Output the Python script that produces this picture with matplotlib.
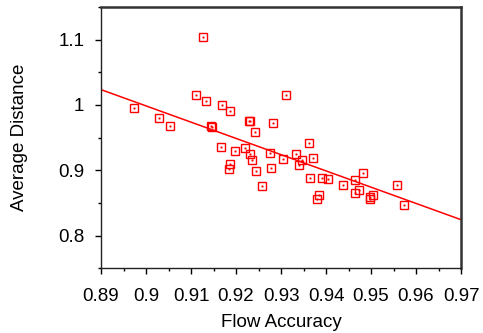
import matplotlib
matplotlib.use('Agg')
import matplotlib.pyplot as plt
from matplotlib.ticker import MultipleLocator

plt.rcParams['font.family'] = ['Liberation Sans', 'DejaVu Sans']

# flow accuracy vs average distance
accuracy = [0.9127, 0.8973, 0.9028, 0.9053, 0.9111, 0.9134, 0.9145, 0.9147,
            0.9168, 0.9187, 0.9229, 0.9231, 0.9242, 0.9282, 0.9310,
            0.9166, 0.9198, 0.9187, 0.9184, 0.9221, 0.9230, 0.9236, 0.9244,
            0.9258, 0.9275, 0.9278, 0.9304,
            0.9362, 0.9333, 0.9346, 0.9341, 0.9372, 0.9364, 0.9391, 0.9404,
            0.9385, 0.9379, 0.9437, 0.9465, 0.9482, 0.9474, 0.9465, 0.9504,
            0.9497, 0.9498, 0.9558, 0.9574]
distance = [1.1046, 0.9954, 0.9800, 0.9680, 1.0158, 1.0055, 0.9672, 0.9668,
            0.9994, 0.9913, 0.9750, 0.9755, 0.9580, 0.9724, 1.0157,
            0.9350, 0.9290, 0.9097, 0.9025, 0.9346, 0.9244, 0.9152, 0.8994,
            0.8764, 0.9260, 0.9040, 0.9178,
            0.9418, 0.9254, 0.9152, 0.9075, 0.9193, 0.8882, 0.8882, 0.8871,
            0.8616, 0.8560, 0.8780, 0.8852, 0.8959, 0.8692, 0.8657, 0.8616,
            0.8591, 0.8565, 0.8769, 0.8463]

# regression line end points
fit_x = [0.89, 0.97]
fit_y = [1.0235, 0.8244]

xticks = [0.89, 0.90, 0.91, 0.92, 0.93, 0.94, 0.95, 0.96, 0.97]
xtick_labels = ['0.89', '0.9', '0.91', '0.92', '0.93', '0.94', '0.95', '0.96', '0.97']
yticks = [0.8, 0.9, 1.0, 1.1]
ytick_labels = ['0.8', '0.9', '1', '1.1']

fig = plt.figure(figsize=(4.83, 3.33), dpi=100)
ax = fig.add_axes([0.2091, 0.1943, 0.7455, 0.7847])

ax.plot(fit_x, fit_y, color='#ff0000', linewidth=1.1, zorder=2)
ax.plot(accuracy, distance, linestyle='none', marker='s', markersize=5.2,
        markerfacecolor='none', markeredgecolor='#ff0000', markeredgewidth=1.0, zorder=3)
ax.plot(accuracy, distance, linestyle='none', marker='s', markersize=1.0,
        markerfacecolor='#ff0000', markeredgecolor='#ff0000', markeredgewidth=0.3, zorder=3)

ax.set_xlim(0.89, 0.97)
ax.set_ylim(0.75, 1.15)
ax.set_xticks(xticks)
ax.set_xticklabels(xtick_labels)
ax.set_yticks(yticks)
ax.set_yticklabels(ytick_labels)
ax.xaxis.set_minor_locator(MultipleLocator(0.005))
ax.yaxis.set_minor_locator(MultipleLocator(0.05))
ax.tick_params(axis='both', which='major', length=4, width=1, labelsize=13.5)
ax.tick_params(axis='x', which='major', pad=10)
ax.tick_params(axis='y', which='major', pad=8)
ax.tick_params(axis='both', which='minor', length=2.5, width=1)

for s in ['left', 'bottom']:
    ax.spines[s].set_linewidth(1.0)
    ax.spines[s].set_color('#222222')
for s in ['top', 'right']:
    ax.spines[s].set_linewidth(1.8)
    ax.spines[s].set_color('#333333')

ax.set_xlabel('Flow Accuracy', fontsize=13.5, labelpad=7)
ax.set_ylabel('Average Distance', fontsize=13.5, labelpad=22)

fig.savefig('out.png', dpi=100)
